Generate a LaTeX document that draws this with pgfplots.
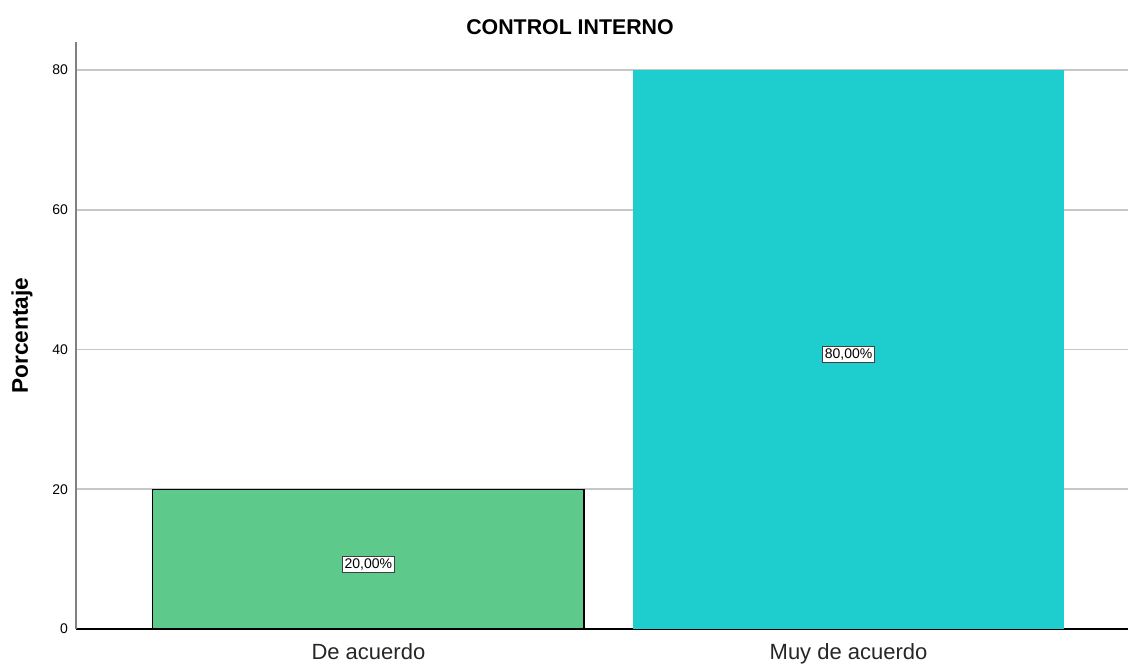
\documentclass[border=0pt]{standalone}
\usepackage{fontspec}
\setmainfont{Liberation Sans}
\usepackage{pgfplots}
\pgfplotsset{compat=1.18}
\usetikzlibrary{calc}
\definecolor{bargreen}{RGB}{93,201,139}
\definecolor{barcyan}{RGB}{30,205,206}
\begin{document}
\begin{tikzpicture}
\begin{axis}[
  scale only axis, width=789pt, height=440.25pt,
  xmin=-0.609, xmax=1.582, ymin=0, ymax=84,
  axis x line*=bottom, axis y line*=left,
  x axis line style={black, line width=0.9pt, -},
  y axis line style={black!50, line width=1.3pt, -},
  xtick={0,1}, xticklabels={De acuerdo, Muy de acuerdo},
  ytick={0,20,40,60,80},
  major tick length=0pt,
  /pgf/number format/assume math mode=true,
  ymajorgrids, grid style={line width=1.3pt, black!22},
  xticklabel style={font=\fontsize{16.5}{18}\selectfont, text=black!85, anchor=base, yshift=-23.25pt},
  yticklabel style={font=\fontsize{10.5}{12}\selectfont, anchor=east, xshift=-2.5pt},
  title={\textbf{CONTROL INTERNO}},
  every axis title/.style={at={(axis description cs:0.4696,1)}, anchor=center, yshift=11.25pt, font=\fontsize{16}{18}\selectfont},
  ylabel={\textbf{Porcentaje}},
  every axis y label/.style={at={(axis description cs:-0.0513,0.5)}, rotate=90, anchor=center, font=\fontsize{17}{19}\selectfont},
  clip=false,
]
\addplot[ybar, bar width=0.898, bar shift=0pt, fill=bargreen, draw=black, line width=0.8pt] coordinates {(0,20)};
\addplot[ybar, bar width=0.898, bar shift=0pt, fill=barcyan, draw=none] coordinates {(1,80)};
\addplot[only marks, mark=none, nodes near coords, point meta=explicit symbolic,
  nodes near coords style={anchor=center, yshift=-3.75pt, draw=black!75, line width=0.7pt, fill=white, inner sep=1.6pt, font=\fontsize{10.5}{12}\selectfont}]
  coordinates {(0,10)[20,00\%] (1,40)[80,00\%]};
\end{axis}
\path (current axis.south west) ++(-57pt,-26.25pt) rectangle ($(current axis.north east)+(0.75pt,31.5pt)$);
\end{tikzpicture}
\end{document}
